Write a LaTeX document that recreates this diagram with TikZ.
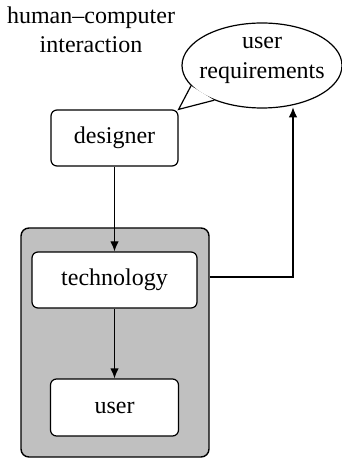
\documentclass[tikz,border=0pt]{standalone}
\usepackage{fontspec}
\setmainfont{Liberation Serif}
\usetikzlibrary{arrows.meta,shapes.geometric}

\definecolor{panelgray}{RGB}{192,192,192}

\tikzset{
  box/.style={draw, rounded corners=3pt, fill=white, line width=0.6pt,
              inner sep=0pt, font=\fontsize{12}{14.5}\selectfont},
  panel/.style={draw, rounded corners=4pt, fill=panelgray, line width=0.7pt,
                inner sep=0pt},
  link/.style={line width=0.6pt, -{Latex[length=5pt,width=4.2pt]}},
  bubble/.style={ellipse, draw, fill=white, line width=0.6pt, inner sep=0pt},
  bubbletext/.style={align=center, inner sep=0pt, font=\fontsize{12}{15}\selectfont},
  tail/.style={line width=0.6pt, line join=miter},
}

\begin{document}
\begin{tikzpicture}[x=0.5pt, y=-0.5pt]
  \useasboundingbox (0,0) rectangle (341,458);

  % caption
  \node[align=center, font=\fontsize{12}{14.5}\selectfont] (title) at (91,30)
    {human--computer\\interaction};

  % shaded system panel
  \node[panel, minimum width=94pt, minimum height=114.5pt] (system) at (115,342.5) {};

  % boxes
  \node[box, minimum width=63.5pt, minimum height=28pt] (designer) at (114.5,138) {designer};
  \node[box, minimum width=82.5pt, minimum height=28pt] (technology) at (114.5,280) {technology};
  \node[box, minimum width=64pt, minimum height=28.5pt] (user) at (114.5,407.5) {user};

  % speech bubble with its tail pointing at the designer
  \node[bubble, minimum width=80pt, minimum height=42.5pt] (req) at (262,65.5) {};
  \fill[white] (req.196) -- (designer.north east) -- (req.216) -- cycle;
  \draw[tail] (req.196) -- (designer.north east) -- (req.216);
  \node[bubbletext] (reqtext) at ([yshift=2.7pt]req.center) {user\\requirements};

  % connectors
  \draw[link] (designer.south) -- (technology.north);
  \draw[link] (technology.south) -- (user.north);
  \coordinate (bend) at (293,277);
  \coordinate (reqin) at ([yshift=-1pt]bend |- req.-52);
  \draw[link] (system.east |- bend) -- (bend) -- (reqin);
\end{tikzpicture}
\end{document}
